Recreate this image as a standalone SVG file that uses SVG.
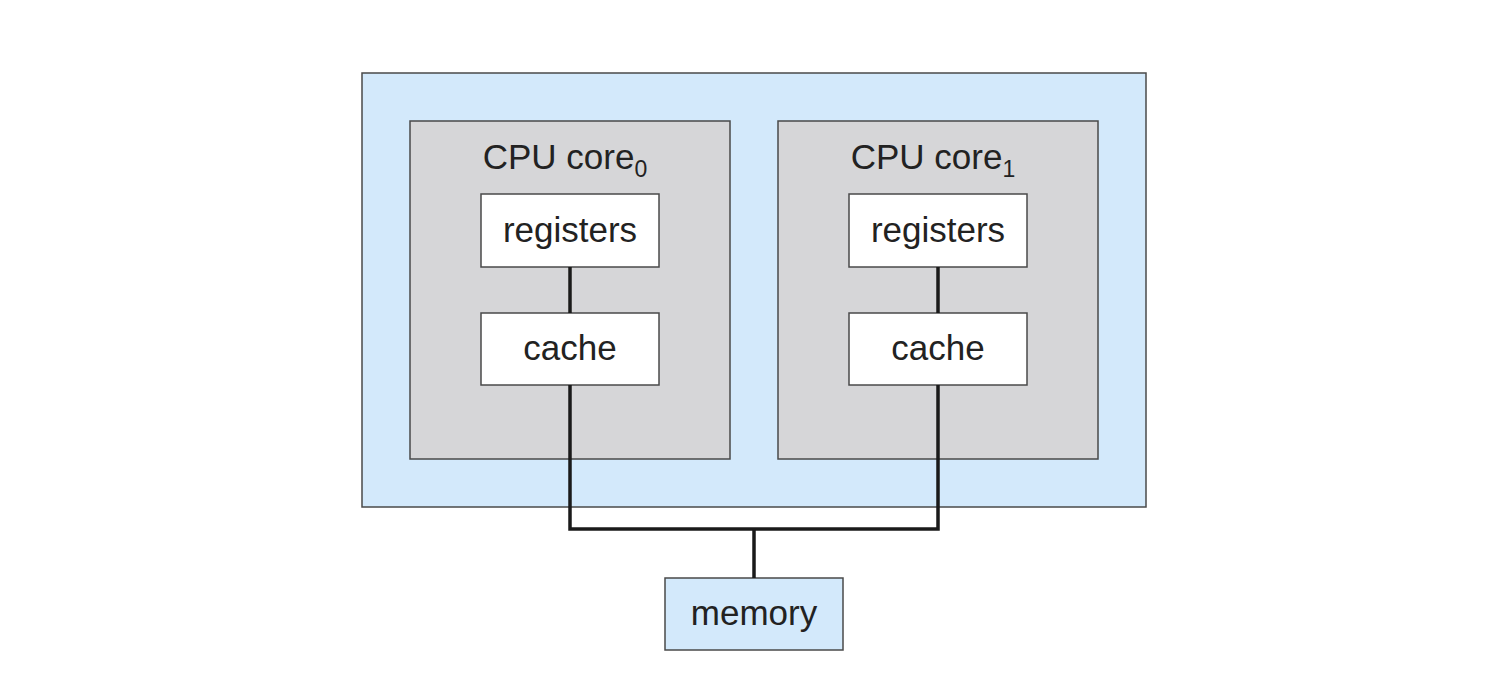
<svg xmlns="http://www.w3.org/2000/svg" width="1488" height="680" viewBox="0 0 1488 680">
<style>
.box{stroke:#4a4a4a;stroke-width:1.5}
.chip{fill:#d3e9fb}
.core{fill:#d6d6d8}
.unit{fill:#ffffff}
.wire{fill:none;stroke:#1a1a1a;stroke-width:3.5}
text{font-family:"Liberation Sans",Arial,sans-serif;font-size:35px;fill:#222222;text-anchor:middle}
.sub{font-size:23px}
</style>
<rect width="1488" height="680" fill="#ffffff"/>
<g id="chip"><rect class="box chip" x="362" y="73" width="784" height="434"/></g>
<g id="core0">
<rect class="box core" x="410" y="121" width="320" height="338"/>
<text x="565" y="169">CPU core<tspan class="sub" dy="8">0</tspan></text>
</g>
<g id="core1">
<rect class="box core" x="778" y="121" width="320" height="338"/>
<text x="933" y="169">CPU core<tspan class="sub" dy="8">1</tspan></text>
</g>
<g id="registers0"><rect class="box unit" x="481" y="194" width="178" height="73"/><text x="570" y="242">registers</text></g>
<g id="cache0"><rect class="box unit" x="481" y="313" width="178" height="72"/><text x="570" y="360">cache</text></g>
<g id="registers1"><rect class="box unit" x="849" y="194" width="178" height="73"/><text x="938" y="242">registers</text></g>
<g id="cache1"><rect class="box unit" x="849" y="313" width="178" height="72"/><text x="938" y="360">cache</text></g>
<g id="memory"><rect class="box chip" x="665" y="578" width="178" height="72"/><text x="754" y="625">memory</text></g>
<g id="connectors">
<line class="wire" x1="570" y1="267" x2="570" y2="313"/>
<line class="wire" x1="938" y1="267" x2="938" y2="313"/>
<polyline class="wire" points="570,385 570,529 938,529 938,385"/>
<line class="wire" x1="754" y1="529" x2="754" y2="578"/>
</g>
</svg>
